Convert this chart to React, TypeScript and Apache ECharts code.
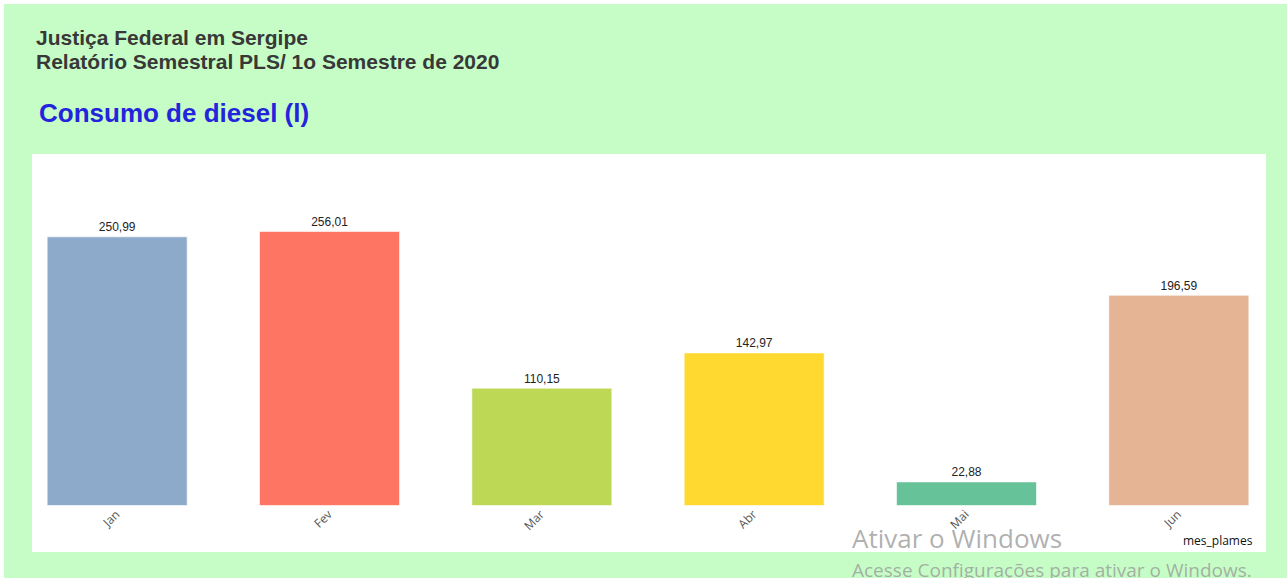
import React, { useEffect, useRef } from "react";
import * as echarts from "echarts";

const months = ["Jan", "Fev", "Mar", "Abr", "Mai", "Jun"];
const consumo = [250.99, 256.01, 110.15, 142.97, 22.88, 196.59];
const barColors = ["#8eaacb", "#ff7563", "#bcd855", "#ffd92f", "#66c298", "#e4b494"];

const fmt = (v: number) => v.toFixed(2).replace(".", ",");

export default function App() {
  const ref = useRef<HTMLDivElement>(null);
  useEffect(() => {
    if (!ref.current) return;
    const chart = echarts.init(ref.current, null, { renderer: "svg" });
    chart.setOption({
      animation: false,
      backgroundColor: "#ffffff",
      title: [
        {
          text: "Justiça Federal em Sergipe\nRelatório Semestral PLS/ 1o Semestre de 2020",
          left: 36,
          top: 25,
          padding: 0,
          textStyle: {
            fontFamily: "Liberation Sans",
            fontSize: 21,
            fontWeight: "bold",
            color: "#383838",
            lineHeight: 24,
          },
        },
        {
          text: "Consumo de diesel (l)",
          left: 39,
          top: 100,
          padding: 0,
          textStyle: {
            fontFamily: "Liberation Sans",
            fontSize: 26,
            fontWeight: "bold",
            color: "#2424dc",
          },
        },
      ],
      graphic: [
        { type: "rect", z: -10, shape: { x: 4, y: 4, width: 1283, height: 574 }, style: { fill: "#c6fdc6" }, silent: true },
        { type: "rect", z: -9, shape: { x: 32, y: 154, width: 1234, height: 398 }, style: { fill: "#ffffff" }, silent: true },
        {
          type: "text",
          z: 10,
          x: 1183,
          y: 534,
          style: { text: "mes_plames", fill: "#111111", font: "12px 'Open Sans'" },
        },
        {
          type: "text",
          z: 10,
          x: 852,
          y: 525,
          style: { text: "Ativar o Windows", fill: "rgba(150,150,150,0.75)", font: "26px 'Open Sans'" },
        },
        {
          type: "text",
          z: 10,
          x: 852,
          y: 560,
          style: { text: "Acesse Configurações para ativar o Windows.", fill: "rgba(150,150,150,0.75)", font: "19px 'Open Sans'" },
        },
      ],
      grid: { left: 11, right: 2, top: 183.7, bottom: 72, containLabel: false },
      xAxis: {
        type: "category",
        data: months,
        axisLine: { show: false },
        axisTick: { show: false },
        axisLabel: {
          rotate: 45,
          margin: 6,
          color: "#555555",
          fontFamily: "Open Sans",
          fontSize: 12,
        },
      },
      yAxis: {
        type: "value",
        min: 0,
        max: 300,
        show: false,
        splitLine: { show: false },
      },
      series: [
        {
          type: "bar",
          barWidth: 141,
          data: consumo.map((v, i) => ({
            value: v,
            itemStyle: { color: barColors[i], borderColor: "rgba(255,255,255,0.6)", borderWidth: 1 },
          })),
          label: {
            show: true,
            position: "top",
            distance: 3,
            formatter: (p: any) => fmt(p.value),
            color: "#222222",
            fontFamily: "Liberation Sans",
            fontSize: 12,
          },
        },
      ],
    });
    return () => chart.dispose();
  }, []);
  return (
    <div
      ref={ref}
      style={{ position: "fixed", left: 0, top: 0, width: 1287, height: 578 }}
    />
  );
}
